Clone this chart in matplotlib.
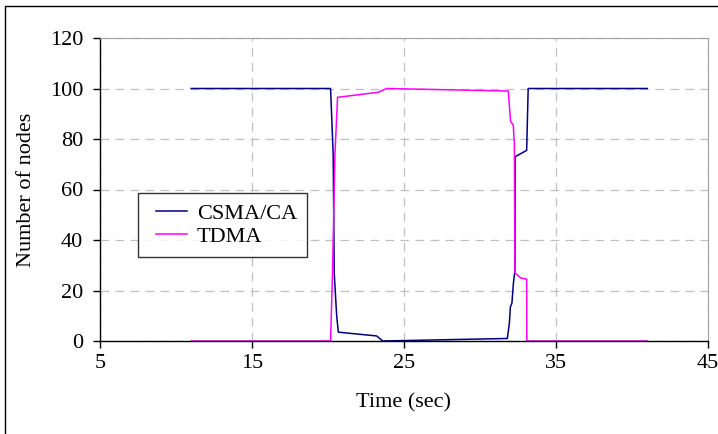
import matplotlib
matplotlib.use("Agg")
from matplotlib import pyplot as plt
from matplotlib.lines import Line2D
from matplotlib.legend_handler import HandlerLine2D
from matplotlib.patches import Rectangle

# readings from the reference chart (time in sec, number of nodes)
csma_time = [11.0, 20.17, 20.34, 20.41, 20.57, 20.68, 23.2, 23.5, 23.6, 31.8,
             31.93, 32.0, 32.1, 32.2, 32.3, 32.32, 33.07, 33.17, 41.0]
csma_nodes = [100, 100, 74, 27, 10, 3.5, 2, 0.5, 0, 1,
              7, 13.5, 15, 23, 28, 73, 75.5, 100, 100]

tdma_time = [11.0, 20.17, 20.3, 20.46, 20.63, 23.3, 23.85, 31.86, 32.01, 32.19,
             32.26, 32.3, 32.67, 33.07, 33.08, 41.0]
tdma_nodes = [0, 0, 28, 74.5, 96.5, 98.5, 100, 99, 87, 85.5,
              78, 27, 25, 24.5, 0, 0]

x_ticks = [5, 15, 25, 35, 45]
y_ticks = [0, 20, 40, 60, 80, 100, 120]

plt.rcParams["font.family"] = ["Liberation Serif", "DejaVu Serif"]
plt.rcParams["font.size"] = 16

fig = plt.figure(figsize=(7.18, 4.34), dpi=100)
ax = fig.add_axes([100 / 718, 1 - 341 / 434, 608 / 718, 303 / 434])

ax.plot(csma_time, csma_nodes, color="#000080", lw=1.1, label="CSMA/CA")
ax.plot(tdma_time, tdma_nodes, color="#ff00ff", lw=1.1, label="TDMA")

ax.set_xlim(5, 45)
ax.set_ylim(0, 120)
ax.set_xticks(x_ticks)
ax.set_yticks(y_ticks)
ax.grid(True, color="#c0c0c0", linestyle=(0, (7, 5)), lw=0.9)
ax.set_axisbelow(True)

for side in ["top", "right"]:
    ax.spines[side].set_color("#a0a0a0")
for side in ["left", "bottom"]:
    ax.spines[side].set_color("black")
    ax.spines[side].set_linewidth(1.0)

ax.tick_params(axis="both", direction="out", length=5, width=1)
ax.tick_params(axis="x", pad=4)
ax.tick_params(axis="y", pad=7)

ax.set_xlabel("Time (sec)", labelpad=15)
ax.set_ylabel("Number of nodes", labelpad=10)

# shorter legend lines, as in the original
leg = ax.legend(loc="upper left", bbox_to_anchor=(38 / 608, 148 / 303),
                frameon=True, fancybox=False, edgecolor="black",
                handlelength=2.1, borderpad=0.45, labelspacing=0.12,
                handletextpad=0.1, borderaxespad=0,
                handler_map={Line2D: HandlerLine2D(numpoints=2, marker_pad=0.35)})
leg.get_frame().set_linewidth(1.0)

# outer chart frame
fig.patches.append(Rectangle((5 / 718, -0.01), 1.02, 1 - 6 / 434 + 0.01,
                             transform=fig.transFigure, fill=False,
                             edgecolor="black", lw=1.0))

fig.savefig("out.png", dpi=100)
